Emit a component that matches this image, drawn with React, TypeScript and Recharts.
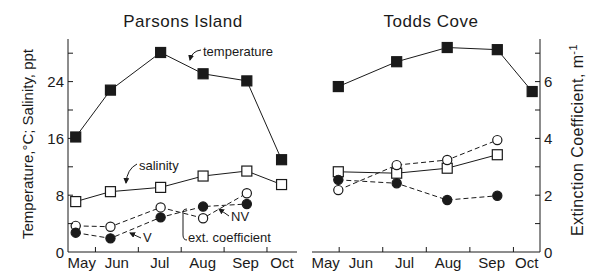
import React from 'react';
import { LineChart, Line, XAxis, YAxis } from 'recharts';

const FONT = '"Liberation Sans", Arial, Helvetica, sans-serif';
const INK = '#1a1a1a';

// x is measured in months after May 1 (1 = Jun 1, 2 = Jul 1, ...)
const monthNames = ['May', 'Jun', 'Jul', 'Aug', 'Sep', 'Oct'];
const monthStarts = [1, 2, 3, 4, 5];

const tempTicks = [0, 4, 8, 12, 16, 20, 24, 28];
const tempLabelled = [0, 8, 16, 24];
const extTicks = [0, 1, 2, 3, 4, 5, 6, 7];
const extLabelled = [0, 2, 4, 6];

// Parsons Island
const parsonsDates = [0.54, 1.35, 2.52, 3.51, 4.53, 5.34];
const parsonsTemp = [16.2, 22.8, 28.1, 25.1, 24.1, 13.0];
const parsonsSal = [7.1, 8.5, 9.1, 10.7, 11.4, 9.5];
const parsonsExtNV = [0.92, 0.89, 1.57, 1.19, 2.07];
const parsonsExtV = [0.68, 0.48, 1.22, 1.6, 1.69];

// Todds Cove
const toddsDates = [0.98, 2.32, 3.48, 4.63, 5.43];
const toddsTemp = [23.3, 26.8, 28.8, 28.5, 22.6];
const toddsSal = [11.3, 11.1, 11.8, 13.7];
const toddsExtNV = [2.18, 3.06, 3.24, 3.94];
const toddsExtV = [2.54, 2.42, 1.83, 1.98];

function buildRows(dates: number[], temp: number[], sal: number[], nv: number[], v: number[]) {
  return dates.map((x, i) => ({ x, temp: temp[i], sal: sal[i], nv: nv[i], v: v[i] }));
}

const parsonsRows = buildRows(parsonsDates, parsonsTemp, parsonsSal, parsonsExtNV, parsonsExtV);
const toddsRows = buildRows(toddsDates, toddsTemp, toddsSal, toddsExtNV, toddsExtV);

const square = (filled: boolean) => (p: any) => {
  if (p.cx == null || p.cy == null) return <g key={`s${p.index}`} />;
  return (
    <rect key={`s${p.index}`} x={p.cx - 5} y={p.cy - 5} width={10} height={10}
      fill={filled ? INK : '#fff'} stroke={INK} strokeWidth={1.2} />
  );
};

const circle = (filled: boolean) => (p: any) => {
  if (p.cx == null || p.cy == null) return <g key={`c${p.index}`} />;
  return (
    <circle key={`c${p.index}`} cx={p.cx} cy={p.cy} r={4.6}
      fill={filled ? INK : '#fff'} stroke={INK} strokeWidth={1.2} />
  );
};

// inward tick marks, labels outside
const yTick = (side: 'left' | 'right', labelled: number[]) => (p: any) => {
  const { x, y, payload } = p;
  const dir = side === 'left' ? 1 : -1;
  const v = payload.value;
  return (
    <g>
      {v > 0 && <line x1={x} x2={x + dir * 5} y1={y} y2={y} stroke={INK} />}
      {labelled.includes(v) && (
        <text x={x - dir * 4} y={y} textAnchor={side === 'left' ? 'end' : 'start'}
          dominantBaseline="central" fontSize={15} fontFamily={FONT} fill={INK}>
          {v}
        </text>
      )}
    </g>
  );
};

type PanelProps = {
  rows: any[];
  xDomain: [number, number];
  width: number;
  margin: { top: number; right: number; bottom: number; left: number };
  leftWidth: number;
  rightWidth: number;
  leftLabels: boolean;
  rightTicks: boolean;
};

function Panel({ rows, xDomain, width, margin, leftWidth, rightWidth, leftLabels, rightTicks }: PanelProps) {
  const labelPos = [(xDomain[0] + 1) / 2, 1.5, 2.5, 3.5, 4.5, (5 + xDomain[1]) / 2];
  const xTicks = [...monthStarts, ...labelPos].sort((a, b) => a - b);
  const xTick = (p: any) => {
    const { x, y, payload } = p;
    const v = payload.value;
    if (monthStarts.includes(v)) {
      return <line x1={x} x2={x} y1={y} y2={y - 5} stroke={INK} />;
    }
    const i = labelPos.findIndex((l) => Math.abs(l - v) < 1e-6);
    return (
      <text x={x} y={y + 16} textAnchor="middle" fontSize={15} fontFamily={FONT} fill={INK}>
        {monthNames[i]}
      </text>
    );
  };

  return (
    <LineChart width={width} height={276} data={rows} margin={margin}>
      <XAxis xAxisId="b" dataKey="x" type="number" domain={xDomain} ticks={xTicks} interval={0}
        tick={xTick} tickLine={false} tickSize={0} tickMargin={0} height={24} stroke={INK} allowDataOverflow />
      <XAxis xAxisId="top" orientation="top" dataKey="x" type="number" domain={xDomain}
        tick={false} tickLine={false} height={0} stroke={INK} allowDataOverflow />
      <YAxis yAxisId="t" domain={[0, 30]} ticks={tempTicks} interval={0}
        tick={yTick('left', leftLabels ? tempLabelled : [])} tickLine={false} tickSize={0} tickMargin={0}
        width={leftWidth} stroke={INK} allowDataOverflow />
      <YAxis yAxisId="e" orientation="right" domain={[0, 7.5]} ticks={extTicks} interval={0}
        tick={rightTicks ? yTick('right', extLabelled) : false} tickLine={false} tickSize={0} tickMargin={0}
        width={rightWidth} stroke={INK} allowDataOverflow />

      <Line xAxisId="b" yAxisId="t" dataKey="temp" stroke={INK} strokeWidth={1}
        dot={square(true)} activeDot={false} isAnimationActive={false} />
      <Line xAxisId="b" yAxisId="t" dataKey="sal" stroke={INK} strokeWidth={1}
        dot={square(false)} activeDot={false} isAnimationActive={false} />
      <Line xAxisId="b" yAxisId="e" dataKey="nv" stroke={INK} strokeWidth={1} strokeDasharray="5 3"
        dot={circle(false)} activeDot={false} isAnimationActive={false} />
      <Line xAxisId="b" yAxisId="e" dataKey="v" stroke={INK} strokeWidth={1} strokeDasharray="5 3"
        dot={circle(true)} activeDot={false} isAnimationActive={false} />
    </LineChart>
  );
}

function Notes() {
  const t = { fontFamily: FONT, fill: INK };
  return (
    <svg width={595} height={276} style={{ position: 'absolute', left: 0, top: 0, pointerEvents: 'none' }}>
      <defs>
        <marker id="ah" viewBox="0 0 6 6" refX="5" refY="3" markerWidth="6" markerHeight="6" orient="auto">
          <path d="M0,0 L6,3 L0,6 z" fill={INK} />
        </marker>
      </defs>
      <text x={183} y={27} textAnchor="middle" fontSize={17} letterSpacing={0.5} {...t}>Parsons Island</text>
      <text x={431} y={27} textAnchor="middle" fontSize={17} letterSpacing={0.5} {...t}>Todds Cove</text>

      <text x={33} y={144} transform="rotate(-90 33 144)" textAnchor="middle" fontSize={15} {...t}>
        Temperature,°C; Salinity, ppt
      </text>
      <text x={583} y={140} transform="rotate(-90 583 140)" textAnchor="middle" fontSize={16} letterSpacing={0.4} {...t}>
        Extinction Coefficient, m<tspan dy={-6} fontSize={11}>-1</tspan>
      </text>

      <text x={203} y={56} fontSize={13} {...t}>temperature</text>
      <path d="M 201 50 Q 192 51 190 60" fill="none" stroke={INK} markerEnd="url(#ah)" />

      <text x={139} y={170} fontSize={13} {...t}>salinity</text>
      <path d="M 137 164 Q 127 169 126 183" fill="none" stroke={INK} markerEnd="url(#ah)" />

      <text x={143} y={242} fontSize={13} {...t}>V</text>
      <path d="M 141 238 L 130 233" fill="none" stroke={INK} markerEnd="url(#ah)" />

      <text x={231} y={221} fontSize={13} {...t}>NV</text>
      <path d="M 229 216 L 219 209" fill="none" stroke={INK} markerEnd="url(#ah)" />

      <path d="M 187 209 Q 182 209 183 214 L 183 235 Q 183 240 187 240" fill="none" stroke={INK} />
      <text x={188} y={242} fontSize={13} {...t}>ext. coefficient</text>
    </svg>
  );
}

export default function App() {
  return (
    <div style={{ position: 'absolute', left: 0, top: 0, width: 595, height: 276, background: '#fff' }}>
      <div style={{ position: 'absolute', left: 0, top: 0 }}>
        <Panel rows={parsonsRows} xDomain={[0.36, 5.7]} width={300}
          margin={{ top: 39, right: 3, bottom: 0, left: 28 }} leftWidth={40} rightWidth={0}
          leftLabels rightTicks={false} />
      </div>
      <div style={{ position: 'absolute', left: 300, top: 0 }}>
        <Panel rows={toddsRows} xDomain={[0.376, 5.61]} width={295}
          margin={{ top: 39, right: 25, bottom: 0, left: 12 }} leftWidth={0} rightWidth={30}
          leftLabels={false} rightTicks />
      </div>
      <Notes />
    </div>
  );
}
